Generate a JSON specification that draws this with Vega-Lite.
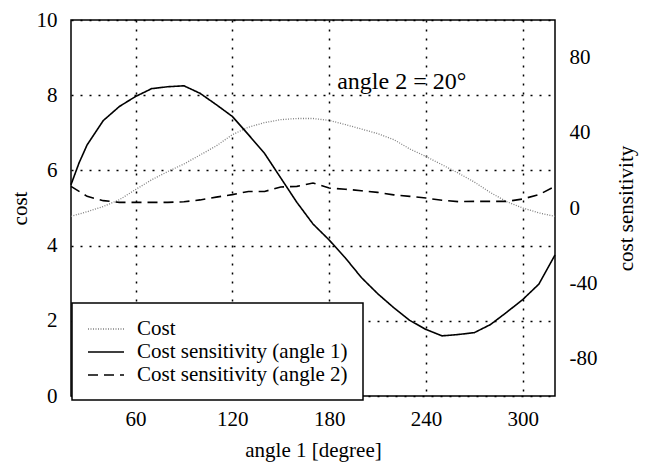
{
  "$schema": "https://vega.github.io/schema/vega-lite/v6.json",
  "width": 484,
  "height": 376,
  "autosize": {"type": "none"},
  "padding": {"left": 71, "top": 20, "right": 90, "bottom": 67},
  "background": "white",
  "config": {
    "view": {"stroke": "black", "strokeWidth": 1.5},
    "font": "Liberation Serif",
    "axis": {
      "labelFont": "Liberation Serif", "titleFont": "Liberation Serif",
      "labelFontSize": 21, "titleFontSize": 21, "titleFontWeight": "normal",
      "labelColor": "black", "titleColor": "black",
      "ticks": false, "domain": false,
      "gridColor": "black", "gridDash": [2, 7], "gridWidth": 1.5, "gridOpacity": 1
    },
    "legend": {
      "orient": "none", "legendX": 1, "legendY": 283,
      "fillColor": "white", "strokeColor": "black", "strokeWidth": 1.5,
      "padding": 15, "symbolType": "M-1,0H2.6", "symbolSize": 400, "symbolStrokeWidth": 1.5,
      "labelFont": "Liberation Serif", "labelFontSize": 21, "labelColor": "black",
      "labelOffset": 28, "rowPadding": 2, "labelLimit": 0
    }
  },
  "data": {"values": [
    {"angle": 20, "series": "Cost", "value": 4.78},
    {"angle": 30, "series": "Cost", "value": 4.9},
    {"angle": 40, "series": "Cost", "value": 5.04},
    {"angle": 50, "series": "Cost", "value": 5.22},
    {"angle": 60, "series": "Cost", "value": 5.49},
    {"angle": 70, "series": "Cost", "value": 5.75},
    {"angle": 80, "series": "Cost", "value": 5.97},
    {"angle": 90, "series": "Cost", "value": 6.17},
    {"angle": 100, "series": "Cost", "value": 6.41},
    {"angle": 110, "series": "Cost", "value": 6.65},
    {"angle": 120, "series": "Cost", "value": 6.95},
    {"angle": 130, "series": "Cost", "value": 7.15},
    {"angle": 140, "series": "Cost", "value": 7.27},
    {"angle": 150, "series": "Cost", "value": 7.35},
    {"angle": 160, "series": "Cost", "value": 7.38},
    {"angle": 170, "series": "Cost", "value": 7.38},
    {"angle": 180, "series": "Cost", "value": 7.33},
    {"angle": 190, "series": "Cost", "value": 7.22},
    {"angle": 200, "series": "Cost", "value": 7.1},
    {"angle": 210, "series": "Cost", "value": 6.98},
    {"angle": 220, "series": "Cost", "value": 6.82},
    {"angle": 230, "series": "Cost", "value": 6.57},
    {"angle": 240, "series": "Cost", "value": 6.37},
    {"angle": 250, "series": "Cost", "value": 6.15},
    {"angle": 260, "series": "Cost", "value": 5.93},
    {"angle": 270, "series": "Cost", "value": 5.69},
    {"angle": 280, "series": "Cost", "value": 5.41},
    {"angle": 290, "series": "Cost", "value": 5.17},
    {"angle": 300, "series": "Cost", "value": 5.0},
    {"angle": 310, "series": "Cost", "value": 4.87},
    {"angle": 320, "series": "Cost", "value": 4.78},
    {"angle": 20, "series": "Cost sensitivity (angle 1)", "value": 12.4},
    {"angle": 25, "series": "Cost sensitivity (angle 1)", "value": 24},
    {"angle": 30, "series": "Cost sensitivity (angle 1)", "value": 33.6},
    {"angle": 40, "series": "Cost sensitivity (angle 1)", "value": 46.5},
    {"angle": 50, "series": "Cost sensitivity (angle 1)", "value": 54},
    {"angle": 60, "series": "Cost sensitivity (angle 1)", "value": 59.3},
    {"angle": 70, "series": "Cost sensitivity (angle 1)", "value": 63.5},
    {"angle": 80, "series": "Cost sensitivity (angle 1)", "value": 64.5},
    {"angle": 90, "series": "Cost sensitivity (angle 1)", "value": 65},
    {"angle": 100, "series": "Cost sensitivity (angle 1)", "value": 61},
    {"angle": 110, "series": "Cost sensitivity (angle 1)", "value": 55},
    {"angle": 120, "series": "Cost sensitivity (angle 1)", "value": 48.7},
    {"angle": 130, "series": "Cost sensitivity (angle 1)", "value": 39},
    {"angle": 140, "series": "Cost sensitivity (angle 1)", "value": 29},
    {"angle": 150, "series": "Cost sensitivity (angle 1)", "value": 16},
    {"angle": 160, "series": "Cost sensitivity (angle 1)", "value": 3},
    {"angle": 170, "series": "Cost sensitivity (angle 1)", "value": -8.5},
    {"angle": 180, "series": "Cost sensitivity (angle 1)", "value": -17},
    {"angle": 190, "series": "Cost sensitivity (angle 1)", "value": -26.5},
    {"angle": 200, "series": "Cost sensitivity (angle 1)", "value": -37},
    {"angle": 210, "series": "Cost sensitivity (angle 1)", "value": -45.5},
    {"angle": 220, "series": "Cost sensitivity (angle 1)", "value": -53},
    {"angle": 230, "series": "Cost sensitivity (angle 1)", "value": -59.8},
    {"angle": 240, "series": "Cost sensitivity (angle 1)", "value": -64.6},
    {"angle": 250, "series": "Cost sensitivity (angle 1)", "value": -68},
    {"angle": 260, "series": "Cost sensitivity (angle 1)", "value": -67.3},
    {"angle": 270, "series": "Cost sensitivity (angle 1)", "value": -66.3},
    {"angle": 280, "series": "Cost sensitivity (angle 1)", "value": -62},
    {"angle": 290, "series": "Cost sensitivity (angle 1)", "value": -55.5},
    {"angle": 300, "series": "Cost sensitivity (angle 1)", "value": -48.7},
    {"angle": 310, "series": "Cost sensitivity (angle 1)", "value": -40.5},
    {"angle": 320, "series": "Cost sensitivity (angle 1)", "value": -25},
    {"angle": 20, "series": "Cost sensitivity (angle 2)", "value": 11.5},
    {"angle": 30, "series": "Cost sensitivity (angle 2)", "value": 6.2},
    {"angle": 40, "series": "Cost sensitivity (angle 2)", "value": 3.9},
    {"angle": 50, "series": "Cost sensitivity (angle 2)", "value": 3.0},
    {"angle": 60, "series": "Cost sensitivity (angle 2)", "value": 3.0},
    {"angle": 70, "series": "Cost sensitivity (angle 2)", "value": 3.0},
    {"angle": 80, "series": "Cost sensitivity (angle 2)", "value": 3.0},
    {"angle": 90, "series": "Cost sensitivity (angle 2)", "value": 3.3},
    {"angle": 100, "series": "Cost sensitivity (angle 2)", "value": 4.3},
    {"angle": 110, "series": "Cost sensitivity (angle 2)", "value": 5.8},
    {"angle": 120, "series": "Cost sensitivity (angle 2)", "value": 7.1},
    {"angle": 130, "series": "Cost sensitivity (angle 2)", "value": 8.8},
    {"angle": 140, "series": "Cost sensitivity (angle 2)", "value": 8.8},
    {"angle": 150, "series": "Cost sensitivity (angle 2)", "value": 11.2},
    {"angle": 160, "series": "Cost sensitivity (angle 2)", "value": 11.5},
    {"angle": 170, "series": "Cost sensitivity (angle 2)", "value": 13.3},
    {"angle": 180, "series": "Cost sensitivity (angle 2)", "value": 10.6},
    {"angle": 190, "series": "Cost sensitivity (angle 2)", "value": 10},
    {"angle": 200, "series": "Cost sensitivity (angle 2)", "value": 9.2},
    {"angle": 210, "series": "Cost sensitivity (angle 2)", "value": 8.3},
    {"angle": 220, "series": "Cost sensitivity (angle 2)", "value": 7},
    {"angle": 230, "series": "Cost sensitivity (angle 2)", "value": 6.2},
    {"angle": 240, "series": "Cost sensitivity (angle 2)", "value": 5.3},
    {"angle": 250, "series": "Cost sensitivity (angle 2)", "value": 4.1},
    {"angle": 260, "series": "Cost sensitivity (angle 2)", "value": 3.4},
    {"angle": 270, "series": "Cost sensitivity (angle 2)", "value": 3.5},
    {"angle": 280, "series": "Cost sensitivity (angle 2)", "value": 3.5},
    {"angle": 290, "series": "Cost sensitivity (angle 2)", "value": 3.5},
    {"angle": 300, "series": "Cost sensitivity (angle 2)", "value": 4.8},
    {"angle": 310, "series": "Cost sensitivity (angle 2)", "value": 7.1},
    {"angle": 320, "series": "Cost sensitivity (angle 2)", "value": 11.5}
  ]},
  "layer": [
    {
      "transform": [{"filter": "datum.series === 'Cost'"}],
      "mark": {"type": "line", "strokeWidth": 1.3},
      "encoding": {
        "x": {"field": "angle", "type": "quantitative",
              "scale": {"domain": [20, 320], "nice": false, "zero": false},
              "axis": {"values": [60, 120, 180, 240, 300], "grid": true, "labelPadding": 12,
                       "title": "angle 1 [degree]", "titlePadding": 10}},
        "y": {"field": "value", "type": "quantitative",
              "scale": {"domain": [0, 10], "nice": false},
              "axis": {"orient": "left", "values": [0, 2, 4, 6, 8, 10], "grid": true,
                       "labelPadding": 14, "title": "cost", "titlePadding": 6}},
        "color": {"field": "series", "type": "nominal",
                  "scale": {"domain": ["Cost", "Cost sensitivity (angle 1)", "Cost sensitivity (angle 2)"],
                            "range": ["#808080", "black", "black"]},
                  "legend": {"title": null}},
        "strokeDash": {"field": "series", "type": "nominal",
                       "scale": {"domain": ["Cost", "Cost sensitivity (angle 1)", "Cost sensitivity (angle 2)"],
                                 "range": [[1, 1.5], [1, 0], [10, 6]]},
                       "legend": {"title": null}}
      }
    },
    {
      "transform": [{"filter": "datum.series !== 'Cost'"}],
      "mark": {"type": "line", "strokeWidth": 1.6},
      "encoding": {
        "x": {"field": "angle", "type": "quantitative"},
        "y": {"field": "value", "type": "quantitative",
              "scale": {"domain": [-100, 100], "nice": false},
              "axis": {"orient": "right", "values": [-80, -40, 0, 40, 80], "grid": false,
                       "labelExpr": "'' + datum.value",
                       "labelPadding": 14, "title": "cost sensitivity", "titleAngle": -90,
                       "titlePadding": 40}},
        "color": {"field": "series", "type": "nominal", "legend": {"title": null}},
        "strokeDash": {"field": "series", "type": "nominal", "legend": {"title": null}}
      }
    },
    {
      "data": {"values": [{"label": "angle 2 = 20°"}]},
      "mark": {"type": "text", "align": "left", "baseline": "middle", "fontSize": 24,
               "font": "Liberation Serif", "color": "black"},
      "encoding": {
        "x": {"datum": 185, "type": "quantitative"},
        "y": {"datum": 8.35, "type": "quantitative", "scale": {"domain": [0, 10]}, "axis": null},
        "text": {"field": "label", "type": "nominal"}
      }
    }
  ],
  "resolve": {"scale": {"y": "independent"}}
}
